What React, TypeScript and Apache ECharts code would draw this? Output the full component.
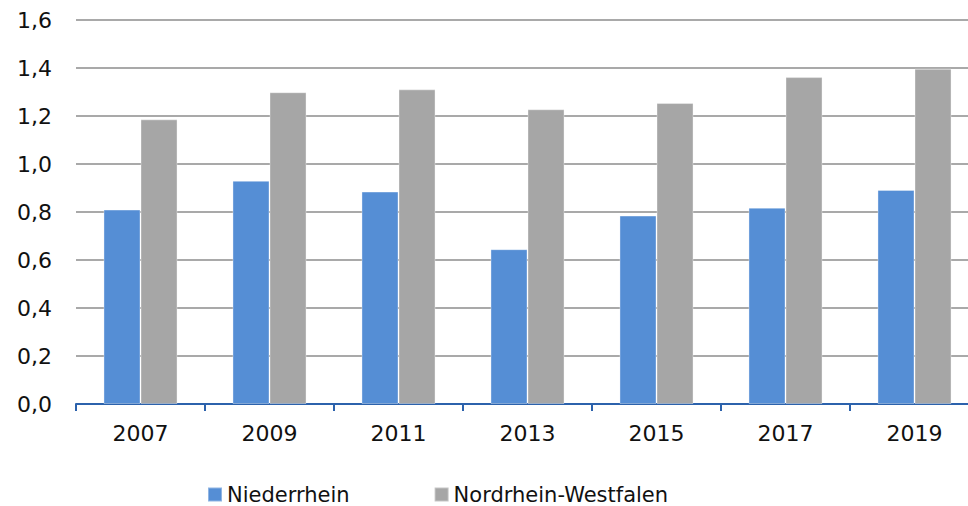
import React, { useEffect, useRef } from "react";
import * as echarts from "echarts";

const years = ["2007", "2009", "2011", "2013", "2015", "2017", "2019"];
const niederrhein = [0.81, 0.93, 0.885, 0.645, 0.785, 0.818, 0.892];
const nrw = [1.186, 1.299, 1.311, 1.228, 1.254, 1.362, 1.397];
const seriesNames = ["Niederrhein", "Nordrhein-Westfalen"];

const FONT = "DejaVu Sans";

export default function App() {
  const ref = useRef<HTMLDivElement>(null);
  useEffect(() => {
    if (!ref.current) return;
    const chart = echarts.init(ref.current, null, { renderer: "svg" });
    chart.setOption({
      animation: false,
      backgroundColor: "#ffffff",
      textStyle: { fontFamily: FONT },
      grid: { left: 76, right: 0, top: 20, bottom: 102, containLabel: false },
      legend: {
        data: seriesNames,
        left: 202,
        top: 479,
        itemWidth: 14,
        itemHeight: 14,
        itemGap: 84,
        icon: "rect",
        textStyle: { fontFamily: FONT, fontSize: 21, color: "#111" },
      },
      xAxis: {
        type: "category",
        data: years,
        axisLine: { show: true, lineStyle: { color: "#2C62AC", width: 2 } },
        axisTick: { show: true, length: 7, lineStyle: { color: "#2C62AC", width: 2 } },
        axisLabel: { fontFamily: FONT, fontSize: 22, color: "#111", margin: 18 },
      },
      yAxis: {
        type: "value",
        min: 0,
        max: 1.6,
        interval: 0.2,
        axisLine: { show: false },
        axisTick: { show: false },
        splitLine: { show: true, lineStyle: { color: "#8c8c8c", width: 1.5 } },
        axisLabel: {
          fontFamily: FONT,
          fontSize: 22,
          color: "#111",
          margin: 24,
          formatter: (v: number) => v.toFixed(1).replace(".", ","),
        },
      },
      series: [
        {
          name: seriesNames[0],
          type: "bar",
          data: niederrhein,
          barGap: "0%",
          barCategoryGap: "42.6%",
          itemStyle: { color: "#558ED5", borderColor: "rgba(255,255,255,0.35)", borderWidth: 1 },
        },
        {
          name: seriesNames[1],
          type: "bar",
          data: nrw,
          barGap: "0%",
          barCategoryGap: "42.6%",
          itemStyle: { color: "#A6A6A6", borderColor: "rgba(255,255,255,0.35)", borderWidth: 1 },
        },
      ],
    });
    return () => chart.dispose();
  }, []);
  return (
    <div
      style={{
        position: "fixed",
        left: 0,
        top: 0,
        width: 968,
        height: 506,
        overflow: "hidden",
        background: "#fff",
      }}
    >
      <div ref={ref} style={{ width: 979, height: 506 }} />
    </div>
  );
}
